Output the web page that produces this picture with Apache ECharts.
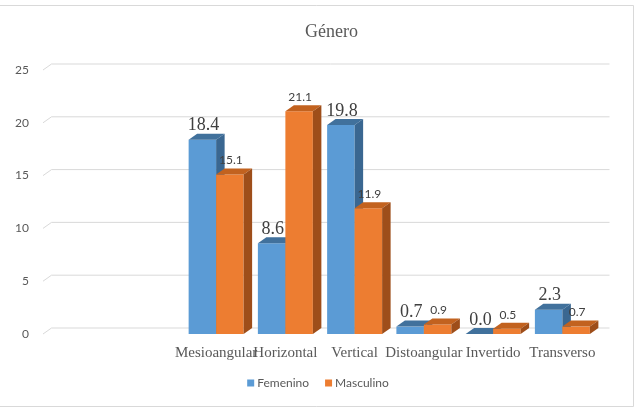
<!DOCTYPE html>
<html>
<head>
<meta charset="utf-8">
<script src="https://cdn.jsdelivr.net/npm/echarts@6/dist/echarts.min.js"></script>
<style>
  html, body { margin: 0; padding: 0; background: #fff; }
  #chart { width: 636px; height: 408px; }
</style>
</head>
<body>
<div id="chart"></div>
<script>
// datos (las dos primeras categorías están vacías en el original)
const categories = ['', '', 'Mesioangular', 'Horizontal', 'Vertical', 'Distoangular', 'Invertido', 'Transverso']
const femenino = [18.4, 8.6, 19.8, 0.7, 0.0, 2.3]
const masculino = [15.1, 21.1, 11.9, 0.9, 0.5, 0.7]
const yTicks = [0, 5, 10, 15, 20, 25]

// profundidad del efecto 3D
const DX = 8.5
const DY = -6
const offset = categories.length - femenino.length

const chart = echarts.init(document.getElementById('chart'))

function barRenderer(side, colors, labelFont) {
  return function (params, api) {
    const idx = api.value(0)
    const val = api.value(1)
    const base = api.coord([idx, 0])
    const top = api.coord([idx, val])
    const bw = api.size([1, 0])[0] * 0.397
    const x0 = side === 0 ? base[0] - bw : base[0]
    const x1 = x0 + bw
    const yt = top[1]
    const yb = base[1]
    return {
      type: 'group',
      children: [
        {
          type: 'rect',
          shape: { x: x0, y: yt, width: bw, height: yb - yt },
          style: { fill: colors[0] }
        },
        {
          type: 'polygon',
          shape: { points: [[x0, yt], [x0 + DX, yt + DY], [x1 + DX, yt + DY], [x1, yt]] },
          style: { fill: colors[1] }
        },
        {
          type: 'polygon',
          shape: { points: [[x1, yt], [x1 + DX, yt + DY], [x1 + DX, yb + DY], [x1, yb]] },
          style: { fill: colors[2] }
        },
        {
          type: 'text',
          z2: 50,
          style: {
            x: (x0 + x1) / 2 + 1,
            y: yt + DY - labelFont.gap,
            text: val.toFixed(1),
            align: 'center',
            verticalAlign: 'middle',
            fill: '#404040',
            font: labelFont.font
          }
        }
      ]
    }
  }
}

chart.setOption({
  animation: false,
  backgroundColor: '#fff',
  graphic: [
    {
      type: 'rect',
      shape: { x: -1, y: 5.5, width: 634.5, height: 401 },
      style: { fill: null, stroke: '#d9d9d9', lineWidth: 1 },
      silent: true
    }
  ],
  title: {
    text: 'Género',
    left: 300,
    top: 18,
    textStyle: {
      fontFamily: 'Liberation Serif',
      fontSize: 18,
      fontWeight: 'normal',
      color: '#595959'
    }
  },
  legend: {
    data: ['Femenino', 'Masculino'],
    bottom: 14,
    left: 'center',
    icon: 'rect',
    itemWidth: 7,
    itemHeight: 7,
    itemGap: 16,
    textStyle: {
      fontFamily: 'Lato',
      fontSize: 12,
      color: '#595959',
      padding: [0, 0, 0, -2]
    }
  },
  grid: {
    left: 43,
    right: 39,
    top: 70,
    bottom: 74
  },
  xAxis: {
    type: 'category',
    data: categories,
    axisLine: { show: false },
    axisTick: { show: false },
    axisLabel: {
      interval: 0,
      margin: 12,
      fontFamily: 'Liberation Serif',
      fontSize: 15,
      color: '#595959'
    }
  },
  yAxis: {
    type: 'value',
    min: 0,
    max: 25,
    interval: 5,
    splitLine: { show: false },
    axisLine: { show: false },
    axisTick: { show: false },
    axisLabel: {
      margin: 14,
      fontFamily: 'Lato',
      fontSize: 12,
      color: '#595959',
      padding: [3, 0, 0, 0]
    }
  },
  series: [
    {
      name: 'grid',
      type: 'custom',
      silent: true,
      z: 1,
      data: yTicks.map(v => [0, v]),
      renderItem: function (params, api) {
        const cs = params.coordSys
        const y = api.coord([0, api.value(1)])[1]
        return {
          type: 'polyline',
          shape: {
            points: [[cs.x, y], [cs.x + DX, y + DY], [cs.x + cs.width + DX + 4, y + DY]]
          },
          style: { stroke: '#d9d9d9', fill: null, lineWidth: 1 }
        }
      }
    },
    {
      name: 'Femenino',
      type: 'custom',
      z: 2,
      itemStyle: { color: '#5b9bd5' },
      data: femenino.map((v, i) => [i + offset, v]),
      renderItem: barRenderer(0, ['#5b9bd5', '#41719c', '#3a6791'], { font: '18px "Liberation Serif"', gap: 8 })
    },
    {
      name: 'Masculino',
      type: 'custom',
      z: 3,
      itemStyle: { color: '#ed7d31' },
      data: masculino.map((v, i) => [i + offset, v]),
      renderItem: barRenderer(1, ['#ed7d31', '#c2621f', '#9e4e1a'], { font: '12px Lato', gap: 8 })
    }
  ]
})
</script>
</body>
</html>
